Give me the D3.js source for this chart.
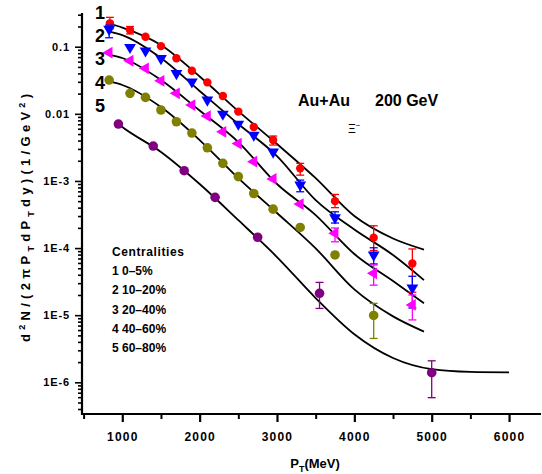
<!DOCTYPE html>
<html><head><meta charset="utf-8">
<script src="https://cdn.jsdelivr.net/npm/d3@7"></script>
<style>
body{margin:0;background:#fff;}
svg{display:block;}
text{font-family:Arial,"Liberation Sans",sans-serif;font-weight:bold;fill:#000;}
</style></head><body>
<svg id="c" width="542" height="474"></svg>
<script>
// ---------- data ----------
const ptMain = [840,1100,1300,1500,1700,1900,2100,2300,2500,2700,2950,3300,3750,4250,4750];
const ptOther = [830,1100,1300,1500,1700,1900,2100,2300,2500,2700,2950,3300,3750,4250,4750];
const pt4 = [830,1100,1300,1500,1700,1900,2100,2300,2500,2700,2950,3300,3750,4250];
const pt5 = [950,1400,1800,2200,2750,3550,5000];

const y1 = [0.223,0.177,0.141,0.102,0.0672,0.0438,0.0294,0.0184,0.0108,0.00636,0.00407,0.00154,5.0e-4,1.43e-4,5.9e-5];
const y2 = [0.182,0.098,0.087,0.067,0.040,0.030,0.0161,0.00993,0.00705,0.00483,0.0027,8.7e-4,2.83e-4,7.9e-5,2.56e-5];
const y3 = [0.0814,0.0618,0.0476,0.0311,0.0202,0.0135,0.00927,0.0054,0.0036,0.00194,0.00107,4.53e-4,1.66e-4,4.2e-5,1.42e-5];
const y4 = [0.0319,0.0202,0.0176,0.0114,0.00762,0.00517,0.00312,0.00183,0.00116,6.5e-4,3.8e-4,2.03e-4,7.9e-5,9.9e-6];
const y5 = [0.00705,0.00331,0.00142,5.7e-4,1.45e-4,2.12e-5,1.39e-6];

// error bars: [index, low, high]
const err1 = [[0,0.185,0.274],[1,0.155,0.2],[10,0.00343,0.00467],[11,0.00122,0.00183],[12,4.0e-4,6.3e-4],[13,9.2e-5,2.15e-4],[14,2.2e-5,9.7e-5]];
const err2 = [[0,0.136,0.21],[11,6.9e-4,1.03e-3],[12,2.36e-4,3.47e-4],[13,5.8e-5,1.01e-4],[14,1.28e-5,3.8e-5]];
const err3 = [[12,1.24e-4,1.99e-4],[13,2.8e-5,5.6e-5],[14,8.5e-6,2.0e-5]];
const err4 = [[13,4.5e-6,1.5e-5]];
const err5 = [[5,1.26e-5,3.08e-5],[6,5.9e-7,2.09e-6]];

// fitted curves
const cP = [850,1000,1500,2000,2500,3000,3500,4000,4500,4900];
const c1 = [0.218,0.193,0.106,0.036,0.0110,0.00355,0.00110,3.0e-4,1.39e-4,9.5e-5];
const c2 = [0.167,0.149,0.0679,0.0219,0.00705,0.00235,5.19e-4,1.89e-4,7.87e-5,3.33e-5];
const c3 = [0.0752,0.0679,0.0319,0.0112,0.0038,9.0e-4,3.10e-4,8.15e-5,3.22e-5,1.51e-5];
const c4 = [0.0301,0.0269,0.0126,0.00407,0.00110,3.33e-4,9.9e-5,2.42e-5,9.6e-6,5.7e-6];
const c5P = [950,1000,1500,2000,2500,3000,3500,4000,4500,5000,5500,6000];
const c5 = [0.00705,0.00636,0.0027,9.0e-4,2.61e-4,7.34e-5,1.80e-5,5.2e-6,2.30e-6,1.57e-6,1.43e-6,1.41e-6];

const xTicks = [1000,2000,3000,4000,5000,6000];
const xMinor = [500,1500,2500,3500,4500,5500];
const yTicks = [0.1,0.01,1e-3,1e-4,1e-5,1e-6];
const yTickLabels = ["0.1","0.01","1E-3","1E-4","1E-5","1E-6"];
const curveNums = ["1","2","3","4","5"];
const legendTitle = "Centralities";
const legendItems = ["1 0\u20135%","2 10\u201320%","3 20\u201340%","4 40\u201360%","5 60\u201380%"];
const colors = ["#ff0000","#0000ff","#ff00ff","#808000","#800080"];

// ---------- chart ----------
const svg = d3.select("#c");
const x = d3.scaleLinear().domain([500,6400]).range([83.6,540]);
const y = d3.scaleLog().domain([3.37e-7,0.318]).range([414,13]);

// axes
const yMinor = [];
for (let e=-7;e<=0;e++) for (let d=2;d<=9;d++){ const v=d*Math.pow(10,e); if(v>3.4e-7&&v<0.318) yMinor.push(v); }

const gy = svg.append("g").attr("transform","translate(82,0)");
gy.call(d3.axisLeft(y).tickValues(yMinor).tickSize(4).tickFormat(""));
gy.call(g=>g.select(".domain").remove());
const gy2 = svg.append("g").attr("transform","translate(82,0)");
gy2.call(d3.axisLeft(y).tickValues(yTicks).tickSize(7).tickPadding(5).tickFormat((d,i)=>yTickLabels[i]).tickSizeOuter(0));
gy2.select(".domain").remove();
svg.selectAll("g .tick line").attr("stroke","#000").attr("stroke-width",1.6);
gy2.selectAll("text").attr("font-size",11).style("letter-spacing","0.9px").attr("font-family","Arial");

const gx = svg.append("g").attr("transform","translate(0,414)");
gx.call(d3.axisBottom(x).tickValues(xMinor).tickSize(5).tickFormat(""));
gx.select(".domain").remove();
const gx2 = svg.append("g").attr("transform","translate(0,414)");
gx2.call(d3.axisBottom(x).tickValues(xTicks).tickSize(8).tickPadding(10).tickFormat(d3.format("d")).tickSizeOuter(0));
gx2.select(".domain").remove();
gx.selectAll(".tick line").attr("stroke-width",2);
gx2.selectAll(".tick line").attr("stroke-width",2.2);
gx2.selectAll("text").attr("font-size",12).style("letter-spacing","1.2px").attr("font-family","Arial");

// axis lines
svg.append("line").attr("x1",82).attr("x2",82).attr("y1",13).attr("y2",415).attr("stroke","#000").attr("stroke-width",2.2);
svg.append("line").attr("x1",81).attr("x2",541).attr("y1",414).attr("y2",414).attr("stroke","#000").attr("stroke-width",2.2);

// curves
const line = d3.line().x(d=>x(d[0])).y(d=>y(d[1])).curve(d3.curveMonotoneX);
const curves = [[cP,c1],[cP,c2],[cP,c3],[cP,c4],[c5P,c5]];
curves.forEach(([p,v])=>{
  svg.append("path").datum(p.map((pp,i)=>[pp,v[i]]))
    .attr("d",line).attr("fill","none").attr("stroke","#000").attr("stroke-width",1.8);
});

// error bars + markers
const series = [
  {p:ptMain,v:y1,e:err1,sym:"circle",r:4.2},
  {p:ptOther,v:y2,e:err2,sym:"tdown"},
  {p:ptOther,v:y3,e:err3,sym:"tleft"},
  {p:pt4,v:y4,e:err4,sym:"circle",r:4.8},
  {p:pt5,v:y5,e:err5,sym:"circle",r:4.8}
];
series.forEach((s,si)=>{
  const g = svg.append("g");
  const col = colors[si];
  s.e.forEach(([i,lo,hi])=>{
    const cx = x(s.p[i]);
    g.append("line").attr("x1",cx).attr("x2",cx).attr("y1",y(lo)).attr("y2",y(hi)).attr("stroke",col).attr("stroke-width",1.3);
    [lo,hi].forEach(v=>g.append("line").attr("x1",cx-4).attr("x2",cx+4).attr("y1",y(v)).attr("y2",y(v)).attr("stroke",col).attr("stroke-width",1.3));
  });
  s.p.forEach((pp,i)=>{
    const cx=x(pp), cy=y(s.v[i]);
    if(s.sym==="circle"){
      g.append("circle").attr("cx",cx).attr("cy",cy).attr("r",s.r).attr("fill",col);
    } else {
      const rot = s.sym==="tdown"?180:-90;
      g.append("path").attr("d",d3.symbol(d3.symbolTriangle,60)())
        .attr("transform",`translate(${cx},${cy}) rotate(${rot})`).attr("fill",col);
    }
  });
});

// curve numbers
const numY = [13,35.5,59,82.5,106];
curveNums.forEach((t,i)=>{
  svg.append("text").attr("x",100).attr("y",numY[i]).attr("dy","0.35em").attr("text-anchor","middle")
    .attr("font-size",18).attr("font-family","'Liberation Serif','Times New Roman',serif").text(t);
});

// annotation
svg.append("text").attr("x",298).attr("y",106).attr("font-size",16).text("Au+Au");
svg.append("text").attr("x",375).attr("y",106).attr("font-size",16).text("200 GeV");
const xi = svg.append("text").attr("x",348).attr("y",133).attr("font-size",12).style("font-weight","normal");
xi.append("tspan").text("\u039E");
xi.append("tspan").attr("dy",-5).attr("font-size",8).text("\u2212");

// legend
svg.append("text").attr("x",112).attr("y",256).attr("font-size",12).style("letter-spacing","0.6px").text(legendTitle);
legendItems.forEach((t,i)=>{
  svg.append("text").attr("x",112).attr("y",275+i*19.3).attr("font-size",12).text(t);
});

// x title
const xt = svg.append("text").attr("x",315).attr("y",468).attr("text-anchor","middle").attr("font-size",13);
xt.append("tspan").text("P");
xt.append("tspan").attr("dy",4).attr("font-size",9).text("T");
xt.append("tspan").attr("dy",-4).text("(MeV)");

// y title
const yt = svg.append("text").attr("transform","translate(30,218) rotate(-90)").attr("text-anchor","middle").attr("font-size",13)
  .attr("textLength",248).attr("lengthAdjust","spacing");
yt.append("tspan").text("d");
yt.append("tspan").attr("dy",-5).attr("font-size",9).text("2");
yt.append("tspan").attr("dy",5).text("N/(2\u03C0P");
yt.append("tspan").attr("dy",4).attr("font-size",9).text("T");
yt.append("tspan").attr("dy",-4).text("dP");
yt.append("tspan").attr("dy",4).attr("font-size",9).text("T");
yt.append("tspan").attr("dy",-4).text("dy)(1/GeV");
yt.append("tspan").attr("dy",-5).attr("font-size",9).text("2");
yt.append("tspan").attr("dy",5).text(")");
</script>
</body></html>
